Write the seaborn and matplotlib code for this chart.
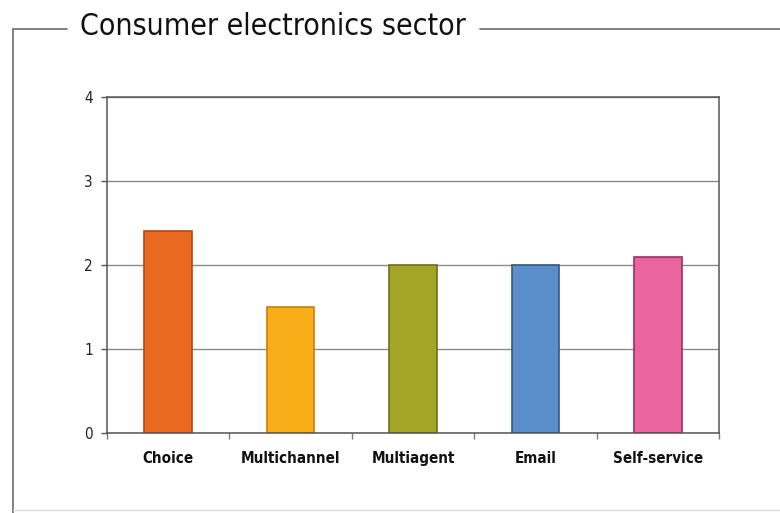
import matplotlib
matplotlib.use("Agg")
import matplotlib.pyplot as plt
from matplotlib.lines import Line2D
from matplotlib.ticker import FixedLocator
from matplotlib import font_manager
import seaborn as sns
import pandas as pd

title = "Consumer electronics sector"
categories = ["Choice", "Multichannel", "Multiagent", "Email", "Self-service"]
scores = [2.4, 1.5, 2.0, 2.0, 2.1]
y_ticks = [0, 1, 2, 3, 4]
bar_colors = ["#E96A1F", "#F8AE19", "#A4A526", "#5A8FCB", "#E8659F"]
edge_colors = ["#B5480F", "#C97F0B", "#6E7016", "#34577F", "#9C2F62"]

# Prefer a narrow sans face when one is installed
entries = font_manager.fontManager.ttflist
names = {f.name for f in entries}
stretch = "normal"
if "Liberation Sans Narrow" in names:
    family = "Liberation Sans Narrow"
elif any(f.name == "DejaVu Sans" and str(f.stretch) in ("condensed", "semi-condensed")
         for f in entries):
    family, stretch = "DejaVu Sans", "condensed"
elif "Roboto" in names:
    family = "Roboto"
else:
    family = "DejaVu Sans"

sns.set_theme(style="white")
plt.rcParams["font.family"] = [family, "DejaVu Sans"]
plt.rcParams["font.stretch"] = stretch

df = pd.DataFrame({"category": categories, "score": scores})

fig = plt.figure(figsize=(7.8, 5.13), dpi=100)
fig.patch.set_facecolor("white")
ax = fig.add_axes([107 / 780, 1 - 433 / 513, 612 / 780, 336 / 513])

sns.barplot(data=df, x="category", y="score", hue="category",
            palette=bar_colors, legend=False, width=0.39, ax=ax,
            saturation=1)
for patch, ec in zip(ax.patches, edge_colors):
    patch.set_edgecolor(ec)
    patch.set_linewidth(1.2)

ax.set_ylim(0, 4)
ax.set_xlim(-0.5, len(categories) - 0.5)
ax.set_yticks(y_ticks)
ax.yaxis.grid(True, color="#8a8a8a", linewidth=1.0)
ax.set_axisbelow(True)
ax.set_xlabel("")
ax.set_ylabel("")

for side in ["left", "right", "top", "bottom"]:
    ax.spines[side].set_visible(True)
    ax.spines[side].set_color("#555555")
    ax.spines[side].set_linewidth(1.1)

ax.tick_params(axis="y", which="major", left=True, length=4, width=1,
               color="#555555", labelsize=11, pad=6, labelcolor="#222222")
ax.tick_params(axis="x", which="major", bottom=False, length=0,
               labelsize=12, pad=15, labelcolor="#111111")
# Category boundary ticks, including both ends of the axis
ax.xaxis.set_minor_locator(FixedLocator([i - 0.5 for i in range(len(categories) + 1)]))
ax.tick_params(axis="x", which="minor", bottom=True, length=4, width=1,
               color="#777777")
for lbl in ax.get_xticklabels():
    lbl.set_fontweight("bold")

# Frame around the panel, broken where the heading sits
frame_kw = dict(color="#777777", linewidth=1.3, transform=fig.transFigure)
y_top = 1 - 29 / 513
x_left = 13 / 780
fig.add_artist(Line2D([x_left, x_left], [y_top, 0], **frame_kw))
fig.add_artist(Line2D([x_left, 67 / 780], [y_top, y_top], **frame_kw))
fig.add_artist(Line2D([480 / 780, 1.0], [y_top, y_top], **frame_kw))
fig.add_artist(Line2D([x_left, 1.0], [3 / 513, 3 / 513],
                      color="#dddddd", linewidth=1.0, transform=fig.transFigure))

head = fig.text(80 / 780, 1 - 27 / 513, title, fontsize=27, color="#111111",
                ha="left", va="center")

# Size the heading and category labels to the width of the narrow face
fig.canvas.draw()
renderer = fig.canvas.get_renderer()
w = head.get_window_extent(renderer).width
head.set_fontsize(min(27, 27 * 385 / w))
lbls = ax.get_xticklabels()
w_lbl = lbls[1].get_window_extent(renderer).width
lab_fs = min(13.5, 12 * 99 / w_lbl)
ax.tick_params(axis="x", which="major", labelsize=lab_fs, pad=13)
for lbl in ax.get_xticklabels():
    lbl.set_fontweight("bold")

fig.savefig("out.png", dpi=100, facecolor="white")
